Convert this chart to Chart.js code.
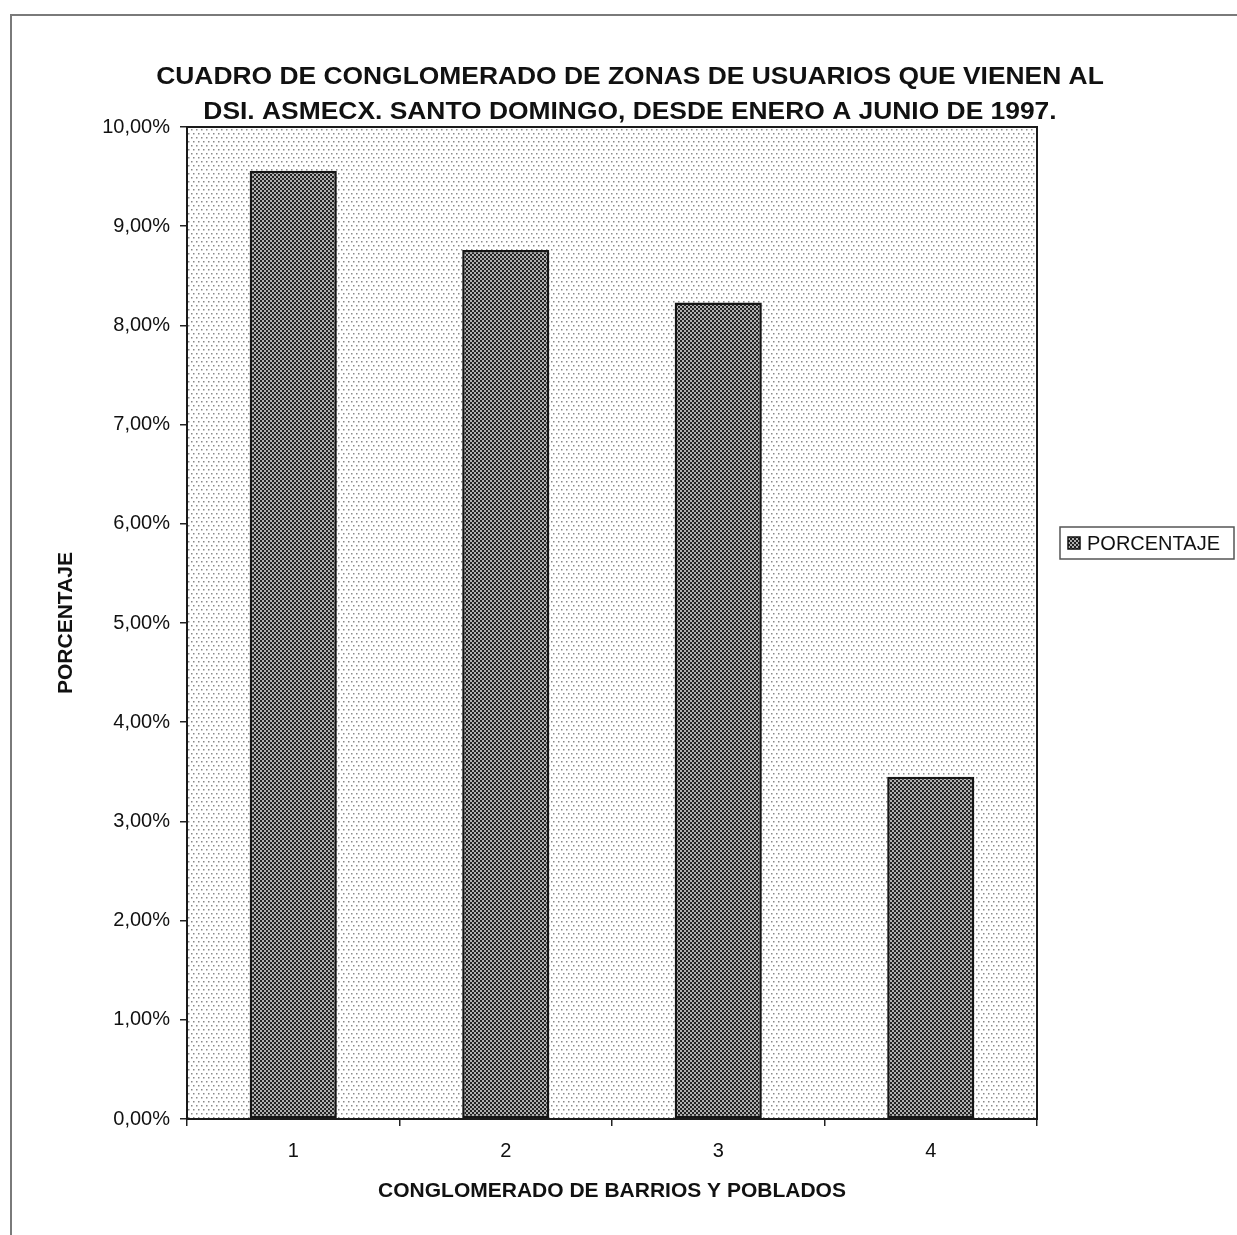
<!DOCTYPE html>
<html>
<head>
<meta charset="utf-8">
<title>Conglomerado de zonas de usuarios</title>
<script src="https://cdn.jsdelivr.net/npm/chart.js@4/dist/chart.umd.min.js"></script>
<style>
  html, body { margin: 0; padding: 0; background: #fff; }
  canvas { display: block; }
</style>
</head>
<body>
<canvas id="chart" width="1237" height="1235"></canvas>
<script>
// Data
const categories = ['1', '2', '3', '4'];
const seriesLabel = 'PORCENTAJE';
const porcentaje = [9.56, 8.76, 8.23, 3.45];
const titleLines = [
  'CUADRO DE CONGLOMERADO DE ZONAS DE USUARIOS QUE VIENEN AL',
  'DSI. ASMECX. SANTO DOMINGO, DESDE ENERO A JUNIO DE 1997.'
];
const xTitle = 'CONGLOMERADO DE BARRIOS Y POBLADOS';
const yTitle = 'PORCENTAJE';

const FONT = '"Liberation Sans", Arial, sans-serif';

// Sparse dot fill for the plot area
function dotPattern(ctx) {
  const c = document.createElement('canvas');
  c.width = 10; c.height = 8;
  const g = c.getContext('2d');
  g.fillStyle = '#ffffff';
  g.fillRect(0, 0, 10, 8);
  g.fillStyle = '#8a8a8a';
  [[1, 1], [6, 1], [3, 5], [8, 5]].forEach(([x, y]) => g.fillRect(x, y, 1.5, 1.5));
  return ctx.createPattern(c, 'repeat');
}

// Dense checker fill for the bars
function checkerPattern(ctx) {
  const c = document.createElement('canvas');
  c.width = 4; c.height = 4;
  const g = c.getContext('2d');
  g.fillStyle = '#b0b0b0';
  g.fillRect(0, 0, 4, 4);
  g.fillStyle = '#222222';
  g.fillRect(0, 0, 2, 2);
  g.fillRect(2, 2, 2, 2);
  return ctx.createPattern(c, 'repeat');
}

const canvas = document.getElementById('chart');
const ctx = canvas.getContext('2d');
const plotFill = dotPattern(ctx);
const barFill = checkerPattern(ctx);

// Draw text slightly widened around its centre
function wideText(c, text, cx, cy, sx) {
  c.save();
  c.translate(cx, cy);
  c.scale(sx, 1);
  c.fillText(text, 0, 0);
  c.restore();
}

const framePlugin = {
  id: 'frame',
  beforeDraw(chart) {
    const c = chart.ctx;
    const a = chart.chartArea;
    c.save();
    c.fillStyle = '#ffffff';
    c.fillRect(0, 0, chart.width, chart.height);
    // outer frame (top and left edges)
    c.strokeStyle = '#7a7a7a';
    c.lineWidth = 2;
    c.beginPath();
    c.moveTo(11, chart.height);
    c.lineTo(11, 15);
    c.lineTo(chart.width, 15);
    c.stroke();
    // plot area fill
    c.fillStyle = plotFill;
    c.fillRect(a.left, a.top, a.right - a.left, a.bottom - a.top);
    c.restore();
  },
  afterDatasetsDraw(chart) {
    const c = chart.ctx;
    const a = chart.chartArea;
    c.save();
    c.strokeStyle = '#1a1a1a';
    c.lineWidth = 2;
    c.strokeRect(a.left, a.top, a.right - a.left, a.bottom - a.top);
    c.restore();
  },
  afterDraw(chart) {
    const c = chart.ctx;
    c.save();
    // title
    c.fillStyle = '#111';
    c.font = 'bold 24px ' + FONT;
    c.textAlign = 'center';
    c.textBaseline = 'middle';
    wideText(c, titleLines[0], 630, 77, 1.1);
    wideText(c, titleLines[1], 630, 112, 1.1);
    // legend
    const lx = 1060, ly = 527, lw = 174, lh = 32;
    c.strokeStyle = '#555';
    c.lineWidth = 1.5;
    c.strokeRect(lx, ly, lw, lh);
    c.fillStyle = barFill;
    c.fillRect(lx + 8, ly + 10, 12, 12);
    c.strokeStyle = '#111';
    c.lineWidth = 1.5;
    c.strokeRect(lx + 8, ly + 10, 12, 12);
    c.fillStyle = '#111';
    c.font = '20px ' + FONT;
    c.textAlign = 'left';
    c.fillText(chart.data.datasets[0].label, lx + 27, ly + lh / 2 + 1);
    c.restore();
  }
};

new Chart(ctx, {
  type: 'bar',
  data: {
    labels: categories,
    datasets: [{
      label: seriesLabel,
      data: porcentaje,
      backgroundColor: barFill,
      borderColor: '#151515',
      borderWidth: 2.5,
      borderSkipped: false,
      barPercentage: 0.41,
      categoryPercentage: 1
    }]
  },
  options: {
    responsive: false,
    animation: false,
    layout: { padding: { top: 127, right: 200, left: 0, bottom: 0 } },
    plugins: {
      legend: { display: false },
      title: { display: false },
      tooltip: { enabled: false }
    },
    scales: {
      x: {
        afterFit(scale) { scale.height = 116; },
        grid: {
          offset: true,
          drawOnChartArea: false,
          drawTicks: true,
          tickLength: 7,
          color: '#222',
          lineWidth: 1.5
        },
        border: { display: true, color: '#1a1a1a', width: 2 },
        ticks: {
          color: '#111',
          font: { family: FONT, size: 20 },
          padding: 13
        },
        title: {
          display: true,
          text: xTitle,
          color: '#111',
          font: { family: FONT, size: 21, weight: 'bold' },
          padding: { top: 0, bottom: 31 }
        }
      },
      y: {
        min: 0,
        max: 10,
        afterFit(scale) { scale.width = 187; },
        grid: {
          drawOnChartArea: false,
          drawTicks: true,
          tickLength: 7,
          color: '#222',
          lineWidth: 1.5
        },
        border: { display: true, color: '#1a1a1a', width: 2 },
        ticks: {
          stepSize: 1,
          color: '#111',
          font: { family: FONT, size: 20 },
          padding: 10,
          callback: (v) => v.toFixed(2).replace('.', ',') + '%'
        },
        title: {
          display: true,
          text: yTitle,
          color: '#111',
          font: { family: FONT, size: 21, weight: 'bold' },
          padding: { top: 54, bottom: 0 }
        }
      }
    }
  },
  plugins: [framePlugin]
});
</script>
</body>
</html>
